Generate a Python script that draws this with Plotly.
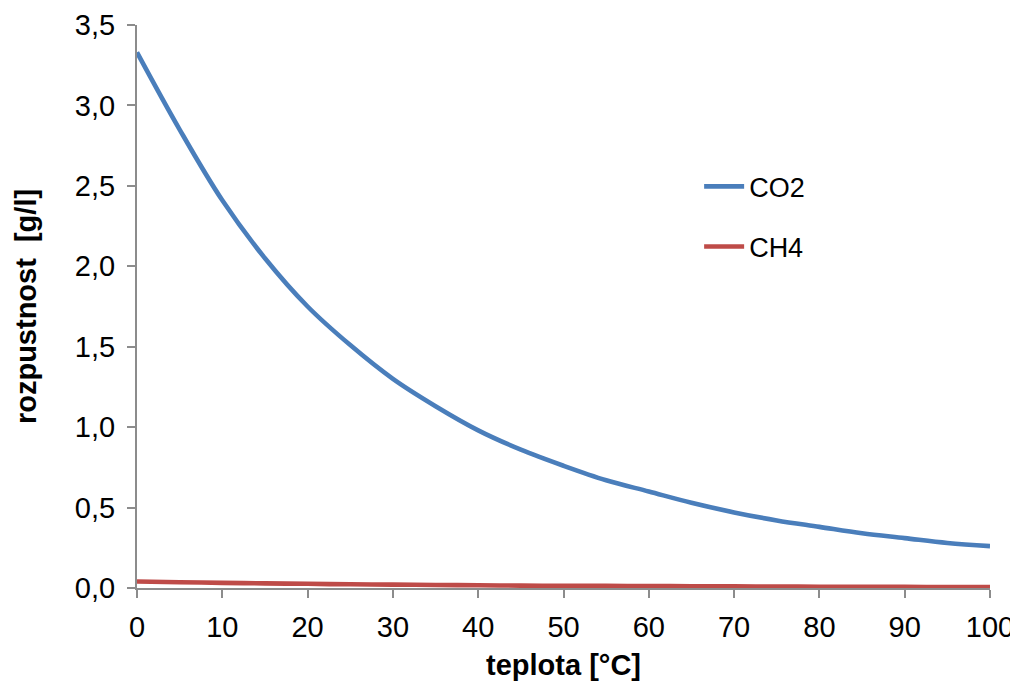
import plotly.graph_objects as go

temperature = [0, 5, 10, 15, 20, 25, 30, 35, 40, 45, 50, 55, 60, 65, 70, 75, 80, 85, 90, 95, 100]
co2 = [3.33, 2.85, 2.41, 2.05, 1.75, 1.51, 1.30, 1.13, 0.98, 0.86, 0.76, 0.67, 0.60, 0.53, 0.47,
       0.42, 0.38, 0.34, 0.31, 0.28, 0.26]
ch4 = [0.040, 0.036, 0.032, 0.029, 0.026, 0.023, 0.021, 0.019, 0.017, 0.015, 0.014, 0.013, 0.012,
       0.011, 0.010, 0.009, 0.008, 0.008, 0.007, 0.006, 0.006]
x_ticks = [0, 10, 20, 30, 40, 50, 60, 70, 80, 90, 100]
y_ticks = [0, 0.5, 1.0, 1.5, 2.0, 2.5, 3.0, 3.5]
y_labels = ["0,0", "0,5", "1,0", "1,5", "2,0", "2,5", "3,0", "3,5"]

FONT = "Liberation Sans, Arial, sans-serif"
FS = 29
LFS = 27

fig = go.Figure()
fig.add_trace(go.Scatter(x=temperature, y=co2, mode="lines", name="CO2",
                         line=dict(color="#4A7EBB", width=4.6, shape="spline"),
                         legendgroup="a"))
fig.add_trace(go.Scatter(x=temperature, y=ch4, mode="lines", name="CH4",
                         line=dict(color="#BE4B48", width=4.6, shape="spline"),
                         legendgroup="b"))

fig.update_layout(
    width=1010, height=676,
    margin=dict(l=129, r=28, t=17, b=96, autoexpand=False),
    paper_bgcolor="white", plot_bgcolor="white",
    font=dict(family=FONT, size=FS, color="black"),
    legend=dict(x=0.659, y=0.756, xanchor="left", yanchor="top",
                font=dict(size=LFS), bgcolor="rgba(0,0,0,0)",
                traceorder="grouped", tracegroupgap=22, itemwidth=40),
    xaxis=dict(range=[0, 100], tickvals=x_ticks, ticktext=[str(v) for v in x_ticks],
               showgrid=False, zeroline=False, showline=True, linecolor="#8c8c8c", linewidth=2,
               ticks="outside", ticklen=8, tickwidth=2, tickcolor="#8c8c8c",
               tickfont=dict(size=FS), automargin=False, ticklabelstandoff=4,
               title=dict(text="<b>teplota [°C]</b>", font=dict(size=FS), standoff=13)),
    yaxis=dict(range=[0, 3.5], tickvals=y_ticks, ticktext=y_labels,
               showgrid=False, zeroline=False, showline=True, linecolor="#8c8c8c", linewidth=2,
               ticks="outside", ticklen=8, tickwidth=2, tickcolor="#8c8c8c",
               tickfont=dict(size=FS), automargin=False, ticklabelstandoff=6,
               title=dict(text="<b>rozpustnost  [g/l]</b>", font=dict(size=FS), standoff=30)),
)

fig.write_html("out.html")
